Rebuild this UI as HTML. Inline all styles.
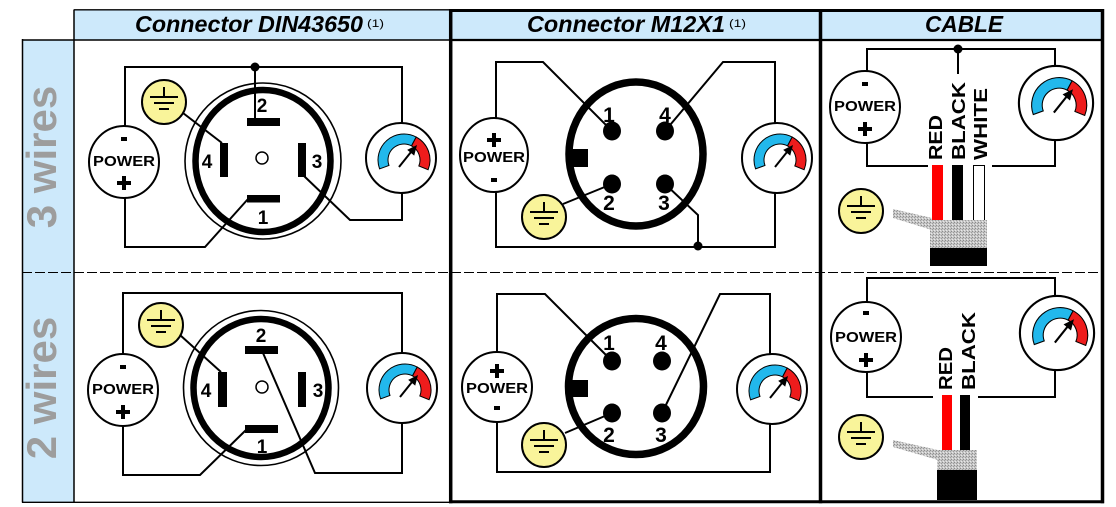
<!DOCTYPE html>
<html><head><meta charset="utf-8"><style>
html,body{margin:0;padding:0;background:#fff;width:1116px;height:507px;overflow:hidden}
svg{display:block}
text{font-family:"Liberation Sans",Arial,sans-serif;font-weight:bold}
</style></head><body>
<svg width="1116" height="507" viewBox="0 0 1116 507" xmlns="http://www.w3.org/2000/svg">
<defs>
<pattern id="tex" width="3" height="3" patternUnits="userSpaceOnUse">
<rect width="3" height="3" fill="#c6c6c6"/>
<rect width="1" height="1" fill="#8c8c8c"/>
<rect x="2" y="1" width="1" height="1" fill="#9c9c9c"/>
<rect x="1" y="2" width="1" height="1" fill="#e8e8e8"/>
</pattern>
<g id="gauge">
<circle r="35" fill="#fff" stroke="#000" stroke-width="2"/>
<path d="M -21.43 10.89 A 26 26 0 0 1 15.21 -20.96 L 10.51 -12.13 A 16 16 0 0 0 -12.04 7.47 Z" fill="#22b8ec" stroke="#000" stroke-width="1"/>
<path d="M 15.21 -20.96 A 26 26 0 0 1 27.11 11.74 L 17.84 7.99 A 16 16 0 0 0 10.51 -12.13 Z" fill="#ee1c1c" stroke="#000" stroke-width="1"/>
<line x1="-2" y1="9" x2="10" y2="-6" stroke="#000" stroke-width="2"/>
<polygon points="16,-13 6.2,-8.1 13.2,-2.4" fill="#000"/>
</g>
<g id="gnd">
<circle r="22" fill="#f9f49a" stroke="#000" stroke-width="2"/>
<path d="M0 -15 V-5 M-14 -5 H14 M-10 1 H10 M-5 7 H5" stroke="#000" stroke-width="2" fill="none"/>
</g>
</defs>

<!-- backgrounds -->
<rect x="74" y="10" width="1028" height="30" fill="#cde9fb"/>
<rect x="22" y="40" width="52" height="462" fill="#cde9fb"/>

<!-- row labels -->
<text transform="translate(56,157) rotate(-90)" font-size="42" fill="#9d9d9d" text-anchor="middle">3 wires</text>
<text transform="translate(56,388) rotate(-90)" font-size="42" fill="#9d9d9d" text-anchor="middle">2 wires</text>

<!-- headers -->
<text x="135" y="32" font-size="23" font-style="italic" textLength="228" lengthAdjust="spacingAndGlyphs">Connector DIN43650</text>
<text x="367" y="27" font-size="11" style="font-weight:normal" textLength="17" lengthAdjust="spacingAndGlyphs">(1)</text>
<text x="527" y="32" font-size="23" font-style="italic" textLength="198" lengthAdjust="spacingAndGlyphs">Connector M12X1</text>
<text x="729" y="27" font-size="11" style="font-weight:normal" textLength="17" lengthAdjust="spacingAndGlyphs">(1)</text>
<text x="925" y="32" font-size="23" font-style="italic" textLength="78" lengthAdjust="spacingAndGlyphs">CABLE</text>

<!-- ================= DIN row 1 ================= -->
<g fill="none" stroke="#000" stroke-width="2">
<path d="M125 126 V67 H402 V123"/>
<path d="M255 67 V118"/>
<path d="M125 198 V247 H205 L248 199"/>
<path d="M402 193 V220 H350 L304 176"/>
<path d="M183 113 L222 143"/>
</g>
<circle cx="255" cy="67" r="4.5"/>
<g transform="translate(263,160)">
<circle cx="0" cy="1" r="78" fill="none" stroke="#000" stroke-width="1.6"/>
<ellipse cx="0" cy="1" rx="67.5" ry="71" fill="none" stroke="#000" stroke-width="6.5"/>
<circle cx="-1" cy="-2" r="6" fill="#fff" stroke="#000" stroke-width="1.5"/>
<rect x="-16" y="-42" width="33" height="8"/>
<rect x="-16" y="35" width="33" height="7.5"/>
<rect x="-43" y="-17" width="8" height="34"/>
<rect x="35" y="-17" width="8" height="34"/>
<text x="-1" y="-48" font-size="19" text-anchor="middle">2</text>
<text x="0" y="64" font-size="19" text-anchor="middle">1</text>
<text x="-56" y="8" font-size="19" text-anchor="middle">4</text>
<text x="54" y="8" font-size="19" text-anchor="middle">3</text>
</g>
<use href="#gnd" x="164" y="102"/>
<use href="#gauge" x="401" y="158"/>
<g transform="translate(124,162)">
<ellipse rx="35" ry="36" fill="#fff" stroke="#000" stroke-width="2"/>
<rect x="-3" y="-25" width="6" height="4"/>
<text x="-31" y="4" font-size="15" textLength="62" lengthAdjust="spacingAndGlyphs">POWER</text>
<path d="M-7 21 H7 M0 14 V28" stroke="#000" stroke-width="4"/>
</g>

<!-- ================= DIN row 2 ================= -->
<g fill="none" stroke="#000" stroke-width="2">
<path d="M123 354 V293 H402 V353"/>
<path d="M123 426 V475 H200 L246 430"/>
<path d="M263 353 L315 473 H402 V423"/>
<path d="M180 335 L221 372"/>
</g>
<g transform="translate(262,389)">
<circle cx="-1" cy="-1" r="77.5" fill="none" stroke="#000" stroke-width="1.6"/>
<ellipse cx="-1" cy="-1" rx="67.5" ry="69" fill="none" stroke="#000" stroke-width="6.5"/>
<circle cx="0" cy="-2" r="6" fill="#fff" stroke="#000" stroke-width="1.5"/>
<rect x="-17" y="-43" width="33" height="8"/>
<rect x="-17" y="36" width="33" height="8"/>
<rect x="-44" y="-17" width="9" height="35"/>
<rect x="36" y="-17" width="8" height="35"/>
<text x="-1" y="-47" font-size="19" text-anchor="middle">2</text>
<text x="0" y="64" font-size="19" text-anchor="middle">1</text>
<text x="-56" y="8" font-size="19" text-anchor="middle">4</text>
<text x="56" y="8" font-size="19" text-anchor="middle">3</text>
</g>
<use href="#gnd" x="161" y="325"/>
<use href="#gauge" x="402" y="388"/>
<g transform="translate(123,390)">
<ellipse rx="35" ry="36" fill="#fff" stroke="#000" stroke-width="2"/>
<rect x="-3" y="-25" width="6" height="4"/>
<text x="-31" y="4" font-size="15" textLength="62" lengthAdjust="spacingAndGlyphs">POWER</text>
<path d="M-7 22 H7 M0 15 V29" stroke="#000" stroke-width="4"/>
</g>

<!-- ================= M12 row 1 ================= -->
<g fill="none" stroke="#000" stroke-width="2">
<path d="M496 120 V62 H543 L612 131"/>
<path d="M496 190 V247 H775 V193"/>
<path d="M775 123 V62 H723 L665 131"/>
<path d="M698 246 V215 L665 184"/>
<path d="M563 204 L612 184"/>
</g>
<circle cx="698" cy="246" r="4.5"/>
<ellipse cx="636" cy="154" rx="67" ry="72" fill="none" stroke="#000" stroke-width="7.5"/>
<rect x="570" y="149" width="18" height="18"/>
<ellipse cx="612" cy="131" rx="9" ry="9.5"/>
<ellipse cx="665" cy="131" rx="9" ry="9.5"/>
<ellipse cx="612" cy="184" rx="9" ry="9.5"/>
<ellipse cx="665" cy="184" rx="9" ry="9.5"/>
<text x="609" y="122" font-size="21" text-anchor="middle">1</text>
<text x="665" y="122" font-size="21" text-anchor="middle">4</text>
<text x="609" y="210" font-size="21" text-anchor="middle">2</text>
<text x="664" y="210" font-size="21" text-anchor="middle">3</text>
<use href="#gnd" x="544" y="217"/>
<use href="#gauge" x="777" y="158"/>
<g transform="translate(494,155)">
<ellipse rx="34" ry="37" fill="#fff" stroke="#000" stroke-width="2"/>
<path d="M-7 -15 H7 M0 -22 V-8" stroke="#000" stroke-width="4"/>
<text x="-31" y="7" font-size="15" textLength="62" lengthAdjust="spacingAndGlyphs">POWER</text>
<rect x="-3" y="23" width="6" height="4"/>
</g>

<!-- ================= M12 row 2 ================= -->
<g fill="none" stroke="#000" stroke-width="2">
<path d="M497 352 V294 H545 L612 361"/>
<path d="M497 422 V472 H770 V424"/>
<path d="M770 354 V294 H720 L662 413"/>
<path d="M565 433 L612 413"/>
</g>
<ellipse cx="636" cy="386.5" rx="67.5" ry="68" fill="none" stroke="#000" stroke-width="7.5"/>
<rect x="572" y="380" width="16" height="17"/>
<ellipse cx="612" cy="361" rx="9" ry="9.5"/>
<ellipse cx="662" cy="361" rx="9" ry="9.5"/>
<ellipse cx="612" cy="413" rx="9" ry="9.5"/>
<ellipse cx="662" cy="413" rx="9" ry="9.5"/>
<text x="609" y="350" font-size="21" text-anchor="middle">1</text>
<text x="661" y="350" font-size="21" text-anchor="middle">4</text>
<text x="609" y="442" font-size="21" text-anchor="middle">2</text>
<text x="661" y="442" font-size="21" text-anchor="middle">3</text>
<use href="#gnd" x="544" y="445"/>
<use href="#gauge" x="772" y="389"/>
<g transform="translate(497,387)">
<ellipse rx="35" ry="35" fill="#fff" stroke="#000" stroke-width="2"/>
<path d="M-7 -16 H7 M0 -23 V-9" stroke="#000" stroke-width="4"/>
<text x="-31" y="6" font-size="15" textLength="62" lengthAdjust="spacingAndGlyphs">POWER</text>
<rect x="-3" y="19" width="6" height="4"/>
</g>

<!-- ================= CABLE row 1 ================= -->
<g fill="none" stroke="#000" stroke-width="2">
<path d="M867 71 V49 H1055 V66"/>
<path d="M958 49 V74"/>
<path d="M867 143 V166 H928"/>
<path d="M992 166 H1055 V140"/>
</g>
<circle cx="958" cy="49" r="4.5"/>
<text transform="translate(942,160) rotate(-90)" font-size="18" textLength="45" lengthAdjust="spacingAndGlyphs">RED</text>
<text transform="translate(965,160) rotate(-90)" font-size="18" textLength="78" lengthAdjust="spacingAndGlyphs">BLACK</text>
<text transform="translate(987,160) rotate(-90)" font-size="18" textLength="72" lengthAdjust="spacingAndGlyphs">WHITE</text>
<rect x="932" y="165" width="11" height="56" fill="#ff0000"/>
<rect x="952" y="165" width="11" height="56" fill="#000"/>
<rect x="973.5" y="165.5" width="11" height="55" fill="#fff" stroke="#000" stroke-width="1"/>
<polygon points="893,209 932,218 932,230 893,218" fill="url(#tex)"/>
<rect x="930" y="220" width="57" height="28" fill="url(#tex)"/>
<rect x="930" y="248" width="57" height="18" fill="#000"/>
<use href="#gnd" x="861" y="211"/>
<use href="#gauge" transform="translate(1056,103) scale(1.06)"/>
<g transform="translate(865,107)">
<ellipse rx="35" ry="36" fill="#fff" stroke="#000" stroke-width="2"/>
<rect x="-3" y="-25" width="6" height="4"/>
<text x="-31" y="4" font-size="15" textLength="62" lengthAdjust="spacingAndGlyphs">POWER</text>
<path d="M-7 22 H7 M0 15 V29" stroke="#000" stroke-width="4"/>
</g>

<!-- ================= CABLE row 2 ================= -->
<g fill="none" stroke="#000" stroke-width="2">
<path d="M867 302 V278 H1055 V297"/>
<path d="M867 372 V397 H933"/>
<path d="M978 397 H1055 V370"/>
</g>
<text transform="translate(952,390) rotate(-90)" font-size="18" textLength="43" lengthAdjust="spacingAndGlyphs">RED</text>
<text transform="translate(975,390) rotate(-90)" font-size="18" textLength="78" lengthAdjust="spacingAndGlyphs">BLACK</text>
<rect x="942" y="395" width="10" height="56" fill="#ff0000"/>
<rect x="960" y="395" width="10" height="56" fill="#000"/>
<polygon points="893,440 938,450 938,460 893,447" fill="url(#tex)"/>
<rect x="937" y="450" width="40" height="20" fill="url(#tex)"/>
<rect x="937" y="470" width="40" height="30" fill="#000"/>
<use href="#gnd" x="861" y="437"/>
<use href="#gauge" transform="translate(1057,333) scale(1.06)"/>
<g transform="translate(866,337)">
<ellipse rx="35" ry="35" fill="#fff" stroke="#000" stroke-width="2"/>
<rect x="-3" y="-26" width="6" height="4"/>
<text x="-31" y="5" font-size="15" textLength="62" lengthAdjust="spacingAndGlyphs">POWER</text>
<path d="M-7 23 H7 M0 16 V30" stroke="#000" stroke-width="4"/>
</g>

<!-- ================= table lines ================= -->
<line x1="22" y1="272.5" x2="1102" y2="272.5" stroke="#000" stroke-width="1" stroke-dasharray="10 3"/>
<g stroke="#000" fill="none">
<line x1="22.5" y1="39" x2="22.5" y2="502.5" stroke-width="1.5"/>
<line x1="22" y1="40" x2="450" y2="40" stroke-width="1.5"/>
<line x1="74" y1="9.5" x2="74" y2="502.5" stroke-width="1.5"/>
<line x1="74" y1="9.8" x2="450" y2="9.8" stroke-width="1.3"/>
<line x1="22" y1="502.3" x2="450" y2="502.3" stroke-width="1.3"/>
<line x1="450" y1="40" x2="1102" y2="40" stroke-width="2.2"/>
<line x1="449" y1="10.5" x2="1104" y2="10.5" stroke-width="3"/>
<line x1="449" y1="501.8" x2="1104" y2="501.8" stroke-width="3"/>
<line x1="450.7" y1="9" x2="450.7" y2="503.3" stroke-width="3.5"/>
<line x1="820.5" y1="9" x2="820.5" y2="503.3" stroke-width="3.5"/>
<line x1="1102.5" y1="9" x2="1102.5" y2="503.3" stroke-width="3.5"/>
</g>
</svg>
</body></html>
